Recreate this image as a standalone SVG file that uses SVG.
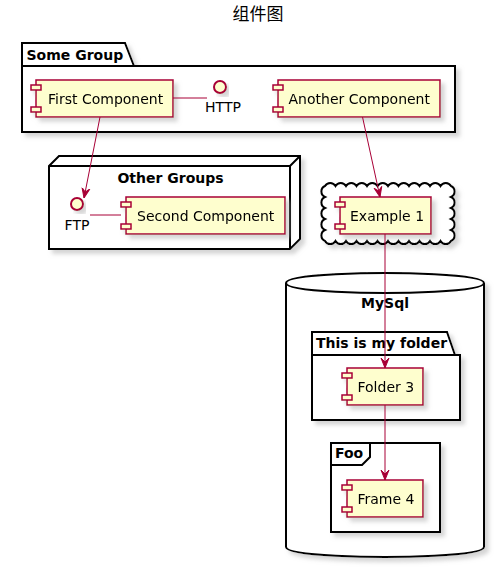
<svg xmlns="http://www.w3.org/2000/svg" width="494" height="567" viewBox="0 0 494 567">
<style>
text{font-family:"DejaVu Sans","Noto Sans CJK SC",sans-serif;font-size:14px;fill:#000}
.b{font-weight:bold}
.title{font-family:"Noto Sans CJK SC","DejaVu Sans",sans-serif;font-size:17px}
.cont{fill:#fff;stroke:#000;stroke-width:2}
.edge{fill:none;stroke:#000;stroke-width:2}
.comp{fill:#FEFECE;stroke:#A80036;stroke-width:1.5}
.ifc{fill:#FEFECE;stroke:#A80036;stroke-width:2}
.link{fill:none;stroke:#A80036;stroke-width:1}
</style>
<defs>
<filter id="sh" x="-10%" y="-10%" width="130%" height="140%">
<feGaussianBlur in="SourceAlpha" stdDeviation="2" result="blur"/>
<feOffset in="blur" dx="4" dy="4" result="off"/>
<feColorMatrix in="off" type="matrix" values="0 0 0 0 0.45  0 0 0 0 0.45  0 0 0 0 0.45  0 0 0 0.55 0" result="shadow"/>
<feMerge><feMergeNode in="shadow"/><feMergeNode in="SourceGraphic"/></feMerge>
</filter>
<marker id="arr" viewBox="0 0 10 10" refX="10" refY="5" markerWidth="10" markerHeight="10" markerUnits="userSpaceOnUse" orient="auto">
<path d="M10,5 L0,1 L4,5 L0,9 Z" fill="#A80036" stroke="#A80036" stroke-width="1"/>
</marker>
</defs>

<text class="title" x="258" y="20" text-anchor="middle">组件图</text>

<g id="some-group">
<path class="cont" filter="url(#sh)" d="M22,43 L125,43 L134,66 L455,66 L455,132 L22,132 Z"/>
<line class="edge" x1="22" y1="66" x2="134" y2="66"/>
<text class="b" x="26.5" y="60">Some Group</text>
</g>

<g id="other-groups">
<path class="cont" filter="url(#sh)" d="M49,166 L59,156 L300,156 L300,239 L290,249 L49,249 Z"/>
<path class="edge" d="M49,166 L290,166 L300,156 M290,166 L290,249"/>
<text class="b" x="170.5" y="183" text-anchor="middle">Other Groups</text>
</g>

<g id="cloud">
<path class="cont" filter="url(#sh)" d="M325,186 a6,6 0 0 1 10.5,0 a6,6 0 0 1 10.5,0 a6,6 0 0 1 10.5,0 a6,6 0 0 1 10.5,0 a6,6 0 0 1 10.5,0 a6,6 0 0 1 10.5,0 a6,6 0 0 1 10.5,0 a6,6 0 0 1 10.5,0 a6,6 0 0 1 10.5,0 a6,6 0 0 1 10.5,0 a6,6 0 0 1 10.5,0 a6,6 0 0 1 10.5,0 a6,6 0 0 1 0,11 a6,6 0 0 1 0,11 a6,6 0 0 1 0,11 a6,6 0 0 1 0,11 a6,6 0 0 1 0,11 a6,6 0 0 1 -10.5,0 a6,6 0 0 1 -10.5,0 a6,6 0 0 1 -10.5,0 a6,6 0 0 1 -10.5,0 a6,6 0 0 1 -10.5,0 a6,6 0 0 1 -10.5,0 a6,6 0 0 1 -10.5,0 a6,6 0 0 1 -10.5,0 a6,6 0 0 1 -10.5,0 a6,6 0 0 1 -10.5,0 a6,6 0 0 1 -10.5,0 a6,6 0 0 1 -10.5,0 a6,6 0 0 1 0,-11 a6,6 0 0 1 0,-11 a6,6 0 0 1 0,-11 a6,6 0 0 1 0,-11 a6,6 0 0 1 0,-11 Z"/>
</g>

<g id="mysql">
<path class="cont" filter="url(#sh)" d="M286,283 C286,273 385,273 385,273 C385,273 484,273 484,283 L484,547 C484,557 385,557 385,557 C385,557 286,557 286,547 Z"/>
<path class="edge" d="M286,283 C286,293 385,293 385,293 C385,293 484,293 484,283"/>
<text class="b" x="385" y="308" text-anchor="middle">MySql</text>
</g>

<g id="my-folder">
<path class="cont" filter="url(#sh)" d="M312,332 L447,332 L455,355 L460,355 L460,420 L312,420 Z"/>
<line class="edge" x1="312" y1="355" x2="455" y2="355"/>
<text class="b" x="316" y="348">This is my folder</text>
</g>

<g id="foo">
<rect class="cont" filter="url(#sh)" x="331" y="443" width="109" height="89"/>
<path class="edge" d="M331,465 L362,465 L370,457 L370,443"/>
<text class="b" x="335" y="458">Foo</text>
</g>

<g id="first-component" filter="url(#sh)">
<rect class="comp" x="36" y="80" width="137" height="37"/>
<rect class="comp" x="31" y="85" width="10" height="5"/>
<rect class="comp" x="31" y="107" width="10" height="5"/>
<text x="48" y="104">First Component</text>
</g>

<g id="http">
<circle class="ifc" filter="url(#sh)" cx="220" cy="87" r="6"/>
<text x="223" y="111.5" text-anchor="middle">HTTP</text>
</g>

<g id="another-component" filter="url(#sh)">
<rect class="comp" x="278" y="80" width="162" height="37"/>
<rect class="comp" x="273" y="85" width="10" height="5"/>
<rect class="comp" x="273" y="107" width="10" height="5"/>
<text x="288.5" y="104">Another Component</text>
</g>

<g id="ftp">
<circle class="ifc" filter="url(#sh)" cx="77" cy="204" r="6"/>
<text x="77" y="230" text-anchor="middle">FTP</text>
</g>

<g id="second-component" filter="url(#sh)">
<rect class="comp" x="126" y="197" width="159" height="37"/>
<rect class="comp" x="121" y="202" width="10" height="5"/>
<rect class="comp" x="121" y="224" width="10" height="5"/>
<text x="137" y="221">Second Component</text>
</g>

<g id="example-1" filter="url(#sh)">
<rect class="comp" x="340" y="197" width="91" height="37"/>
<rect class="comp" x="335" y="202" width="10" height="5"/>
<rect class="comp" x="335" y="224" width="10" height="5"/>
<text x="350" y="221">Example 1</text>
</g>

<g id="folder-3" filter="url(#sh)">
<rect class="comp" x="347" y="368" width="76" height="37"/>
<rect class="comp" x="342" y="373" width="10" height="5"/>
<rect class="comp" x="342" y="395" width="10" height="5"/>
<text x="357.5" y="392">Folder 3</text>
</g>

<g id="frame-4" filter="url(#sh)">
<rect class="comp" x="347" y="480" width="76" height="37"/>
<rect class="comp" x="342" y="485" width="10" height="5"/>
<rect class="comp" x="342" y="507" width="10" height="5"/>
<text x="357.5" y="504">Frame 4</text>
</g>

<g id="connectors">
<line class="link" x1="173" y1="98" x2="207" y2="98"/>
<line class="link" x1="90" y1="215" x2="121" y2="215"/>
<line class="link" x1="100" y1="117" x2="84" y2="198" marker-end="url(#arr)"/>
<line class="link" x1="362.5" y1="117" x2="380" y2="197" marker-end="url(#arr)"/>
<line class="link" x1="385" y1="234" x2="385" y2="368" marker-end="url(#arr)"/>
<line class="link" x1="385" y1="405" x2="385" y2="480" marker-end="url(#arr)"/>
</g>
</svg>
